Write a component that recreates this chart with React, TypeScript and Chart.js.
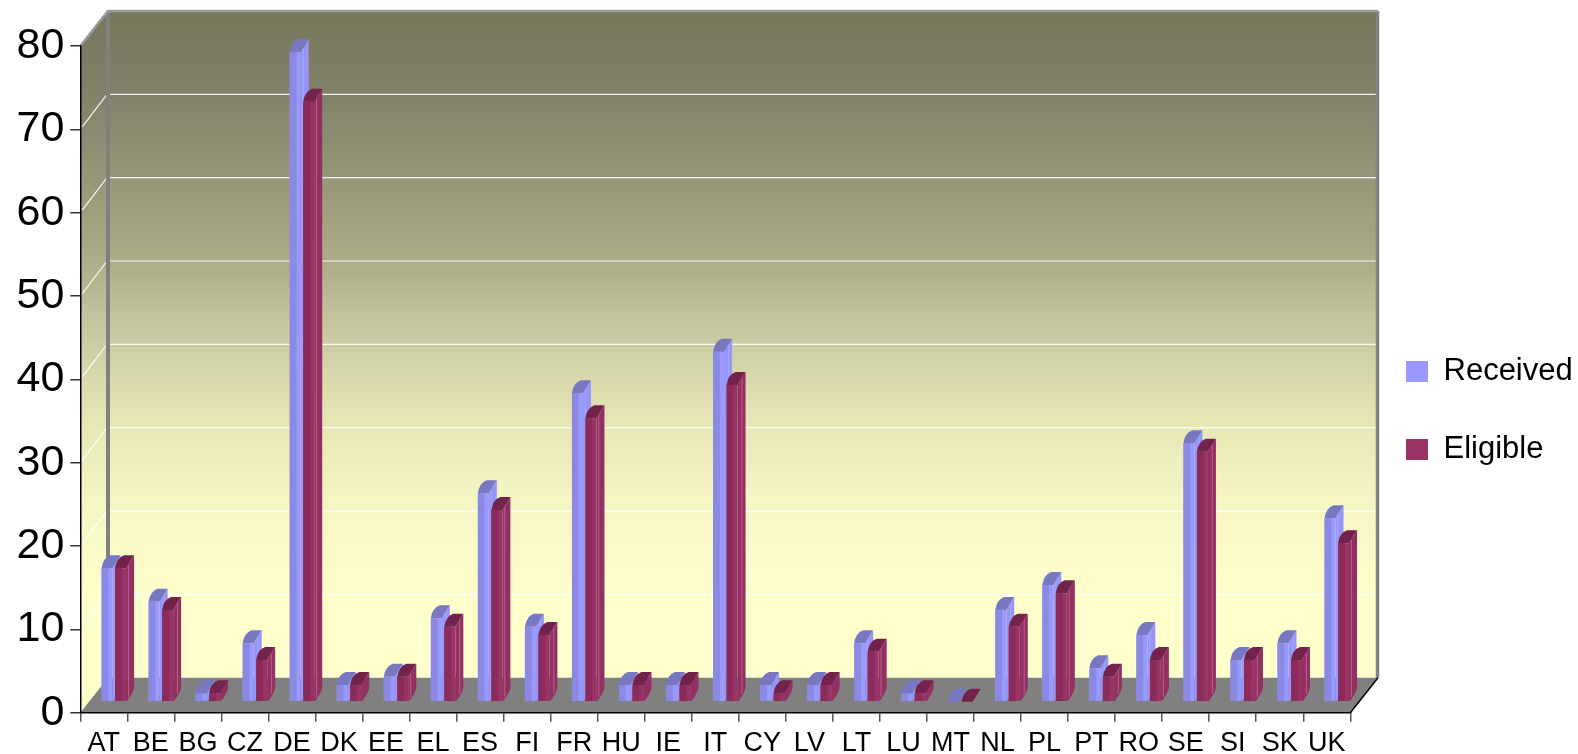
import React, { useEffect, useRef } from "react";
import { Chart, registerables } from "chart.js";

Chart.register(...registerables);

const categories = ["AT","BE","BG","CZ","DE","DK","EE","EL","ES","FI","FR","HU","IE","IT","CY","LV","LT","LU","MT","NL","PL","PT","RO","SE","SI","SK","UK"];
const received = [16,12,1,7,78,2,3,10,25,9,37,2,2,42,2,2,7,1,0,11,14,4,8,31,5,7,22];
const eligible = [16,11,1,5,72,2,3,9,23,8,34,2,2,38,1,2,6,1,0,9,13,3,5,30,5,5,19];

const FONT = "'Liberation Sans', Arial, sans-serif";
const DEPTH_X = 27.7, DEPTH_Y = 35;      // wall depth
const BAR_DX = 10, BAR_DY = -11;         // bars stand mid-way on the floor
const SIDE_X = 8, SIDE_Y = 13;           // depth of one bar
const STYLES = [
  { front: "#9999ff", dark: "#8a8ae4", top: "#7878c2", side: "#9696fa", hi: "#a8a8ff" },
  { front: "#993366", dark: "#8a2b5a", top: "#73224c", side: "#932f62", hi: "#b0648a" },
];

function drawDepth(chart: any, index: number) {
  const ctx = chart.ctx;
  const s = STYLES[index];
  chart.getDatasetMeta(index).data.forEach((el: any, i: number) => {
    const p = el.getProps(["x", "y", "base", "width"], true);
    const x0 = p.x - p.width / 2 + BAR_DX, x1 = x0 + p.width;
    const top = p.y + BAR_DY, base = p.base + BAR_DY;
    ctx.save();
    if (base - top > 0.5) {
      ctx.fillStyle = s.dark;
      ctx.fillRect(x0, top, p.width * 0.62, base - top);
      ctx.fillStyle = s.side;
      ctx.beginPath();
      ctx.moveTo(x1, top);
      ctx.lineTo(x1 + SIDE_X, top - SIDE_Y);
      ctx.lineTo(x1 + SIDE_X, Math.max(base - SIDE_Y, top - SIDE_Y));
      ctx.quadraticCurveTo(x1 + SIDE_X - 1, base - SIDE_Y + 5, x1 + 1, base);
      ctx.lineTo(x1, base);
      ctx.closePath();
      ctx.fill();
      ctx.strokeStyle = s.hi;
      ctx.lineWidth = 1;
      if (base - top > 20) {
        const f = i % 2 ? 0.55 : 0.3;
        const sx = x1 + SIDE_X * f;
        ctx.beginPath();
        ctx.moveTo(sx, top - SIDE_Y * f);
        ctx.lineTo(sx, base - SIDE_Y * f);
        ctx.stroke();
      }
    }
    ctx.fillStyle = s.top;
    ctx.beginPath();
    ctx.moveTo(x0, top);
    ctx.quadraticCurveTo(x0 + 1.5, top - SIDE_Y + 2.5, x0 + SIDE_X + 1, top - SIDE_Y);
    ctx.lineTo(x1 + SIDE_X, top - SIDE_Y);
    ctx.lineTo(x1, top);
    ctx.closePath();
    ctx.fill();
    ctx.restore();
  });
}

const wall3d = {
  id: "wall3d",
  beforeDraw(chart: any) {
    const { ctx, chartArea: a, scales } = chart;
    const y = scales.y;
    const backTop = a.top - DEPTH_Y, backBottom = a.bottom - DEPTH_Y;
    const bl = a.left + DEPTH_X, br = a.right + DEPTH_X;
    const g = ctx.createLinearGradient(0, backTop, 0, backBottom);
    const stops: [number, string][] = [
      [0, "#77775c"], [0.13, "#82826a"], [0.25, "#969678"], [0.375, "#acac88"],
      [0.5, "#cdcda5"], [0.625, "#e8e8b6"], [0.74, "#f6f6c5"], [0.88, "#ffffcc"], [1, "#ffffcc"],
    ];
    stops.forEach(([p, c]) => g.addColorStop(p, c));
    ctx.save();
    ctx.fillStyle = g;
    ctx.fillRect(bl, backTop, br - bl, backBottom - backTop);
    ctx.beginPath();
    ctx.moveTo(a.left, a.top); ctx.lineTo(bl, backTop); ctx.lineTo(bl, backBottom); ctx.lineTo(a.left, a.bottom);
    ctx.closePath(); ctx.fill();
    ctx.fillStyle = "#808080";
    ctx.beginPath();
    ctx.moveTo(a.left, a.bottom); ctx.lineTo(bl, backBottom); ctx.lineTo(br, backBottom); ctx.lineTo(a.right, a.bottom);
    ctx.closePath(); ctx.fill();
    y.ticks.forEach((t: any) => {
      if (t.value === 0 || t.value === 80) return;
      const py = y.getPixelForValue(t.value);
      ctx.strokeStyle = "rgba(255,255,255,0.9)";
      ctx.lineWidth = 1.2;
      ctx.beginPath();
      ctx.moveTo(a.left + 2, py - 2.5); ctx.lineTo(bl - 1, py - DEPTH_Y);
      ctx.lineTo(br - 1, py - DEPTH_Y);
      ctx.stroke();
    });
    ctx.strokeStyle = "#808080";
    ctx.lineWidth = 4;
    ctx.beginPath(); ctx.moveTo(bl, backTop); ctx.lineTo(bl, backBottom); ctx.stroke();
    ctx.lineWidth = 3.5;
    ctx.beginPath(); ctx.moveTo(br - 0.5, backTop); ctx.lineTo(br - 0.5, backBottom); ctx.stroke();
    ctx.strokeStyle = "#9a9a9a";
    ctx.lineWidth = 2.5;
    ctx.beginPath(); ctx.moveTo(a.left, a.top); ctx.lineTo(bl, backTop); ctx.lineTo(br, backTop); ctx.stroke();
    ctx.strokeStyle = "#000";
    ctx.lineWidth = 1.5;
    ctx.beginPath(); ctx.moveTo(a.right, a.bottom); ctx.lineTo(br, backBottom); ctx.stroke();
    ctx.restore();
  },
  // Chart.js paints the last dataset first; here the first one must lie behind the second.
  beforeDatasetDraw(chart: any, args: any) {
    if (args.index === 1) return false;
    chart.ctx.save();
    chart.ctx.translate(BAR_DX, BAR_DY);
  },
  afterDatasetDraw(chart: any, args: any) {
    const ctx = chart.ctx;
    ctx.restore();
    drawDepth(chart, 0);
    ctx.save();
    ctx.translate(BAR_DX, BAR_DY);
    chart.getDatasetMeta(1).controller.draw();
    ctx.restore();
    drawDepth(chart, 1);
  },
  afterLayout(chart: any) {
    const l = chart.legend;
    if (!l) return;
    l.left = 1359; l.right = 1578; l.top = 309; l.bottom = 530;
  },
};

export default function App() {
  const ref = useRef<HTMLCanvasElement>(null);
  useEffect(() => {
    const chart = new Chart(ref.current!, {
      type: "bar",
      data: {
        labels: categories,
        datasets: [
          { label: "Received", data: received, backgroundColor: STYLES[0].front, clip: false },
          { label: "Eligible", data: eligible, backgroundColor: STYLES[1].front, clip: false },
        ],
      },
      options: {
        animation: false,
        responsive: false,
        categoryPercentage: 0.574,
        barPercentage: 0.815,
        layout: { padding: { top: 46, right: 227.7, left: 0, bottom: 0 } },
        plugins: {
          tooltip: { enabled: false },
          legend: {
            position: "chartArea",
            align: "start",
            labels: {
              boxWidth: 22, boxHeight: 21, padding: 47, color: "#000",
              font: { family: FONT, size: 31 },
            },
          },
        },
        scales: {
          x: {
            afterFit: (s: any) => { s.height = 41.3; },
            grid: { drawOnChartArea: false, tickLength: 9, color: "#555", lineWidth: 1.5 },
            border: { color: "#000", width: 1.5 },
            ticks: { autoSkip: false, maxRotation: 0, minRotation: 0, color: "#000", padding: 6, font: { family: FONT, size: 27 } },
          },
          y: {
            min: 0, max: 80,
            afterFit: (s: any) => { s.width = 80.3; },
            grid: { drawOnChartArea: false, tickLength: 10, color: "#333", lineWidth: 1.5 },
            border: { color: "#000", width: 1.5 },
            ticks: { stepSize: 10, color: "#000", padding: 6, font: { family: FONT, size: 43 } },
          },
        },
      },
      plugins: [wall3d],
    } as any);
    return () => chart.destroy();
  }, []);
  return (
    <div style={{ position: "fixed", left: 0, top: 0, width: 1578, height: 754 }}>
      <canvas ref={ref} width={1578} height={754} style={{ display: "block", width: 1578, height: 754 }} />
    </div>
  );
}
